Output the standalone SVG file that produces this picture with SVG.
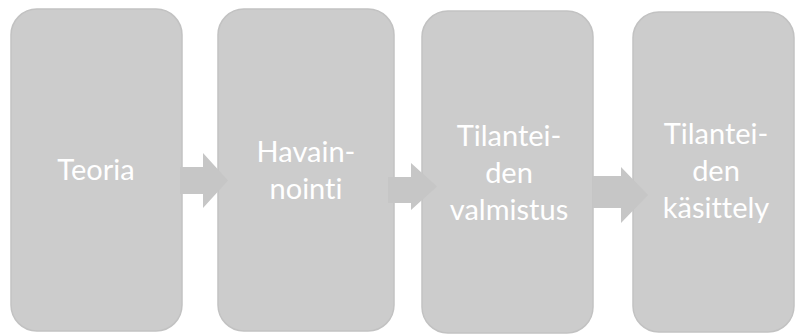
<svg xmlns="http://www.w3.org/2000/svg" width="795" height="334" viewBox="0 0 795 334">
<style>
.box{fill:#cccccc;stroke:#c2c2c2;stroke-width:1.5}
.arr{fill:#c6c6c6;stroke:none}
.t{font-family:Lato,"Open Sans","Liberation Sans",sans-serif;font-size:29px;font-weight:400;fill:#ffffff;text-anchor:middle;font-variant-ligatures:none}
</style>
<rect width="795" height="334" fill="#ffffff"/>
<g id="n1"><rect class="box" x="11" y="9" width="171" height="322" rx="26"/><text class="t" x="96" y="180">Teoria</text></g>
<g id="n2"><rect class="box" x="218" y="9" width="176" height="322" rx="26"/><text class="t" x="306" y="162">Havain-</text><text class="t" x="306" y="199">nointi</text></g>
<g id="n3"><rect class="box" x="422" y="11" width="171" height="322" rx="26"/><text class="t" x="509" y="146">Tilantei-</text><text class="t" x="509" y="183">den</text><text class="t" x="509" y="220">valmistus</text></g>
<g id="n4"><rect class="box" x="633" y="12" width="161" height="320" rx="26"/><text class="t" x="716" y="144">Tilantei-</text><text class="t" x="716" y="181">den</text><text class="t" x="716" y="218">käsittely</text></g>
<g id="connectors">
<polygon class="arr" points="180,167 203,167 203,153 228,180.5 203,208 203,194 180,194"/>
<polygon class="arr" points="388,177 411,177 411,163 437,186.5 411,210 411,203 388,203"/>
<polygon class="arr" points="593,176 621,176 621,167 648,195 621,223 621,208 593,208"/>
</g>
</svg>
